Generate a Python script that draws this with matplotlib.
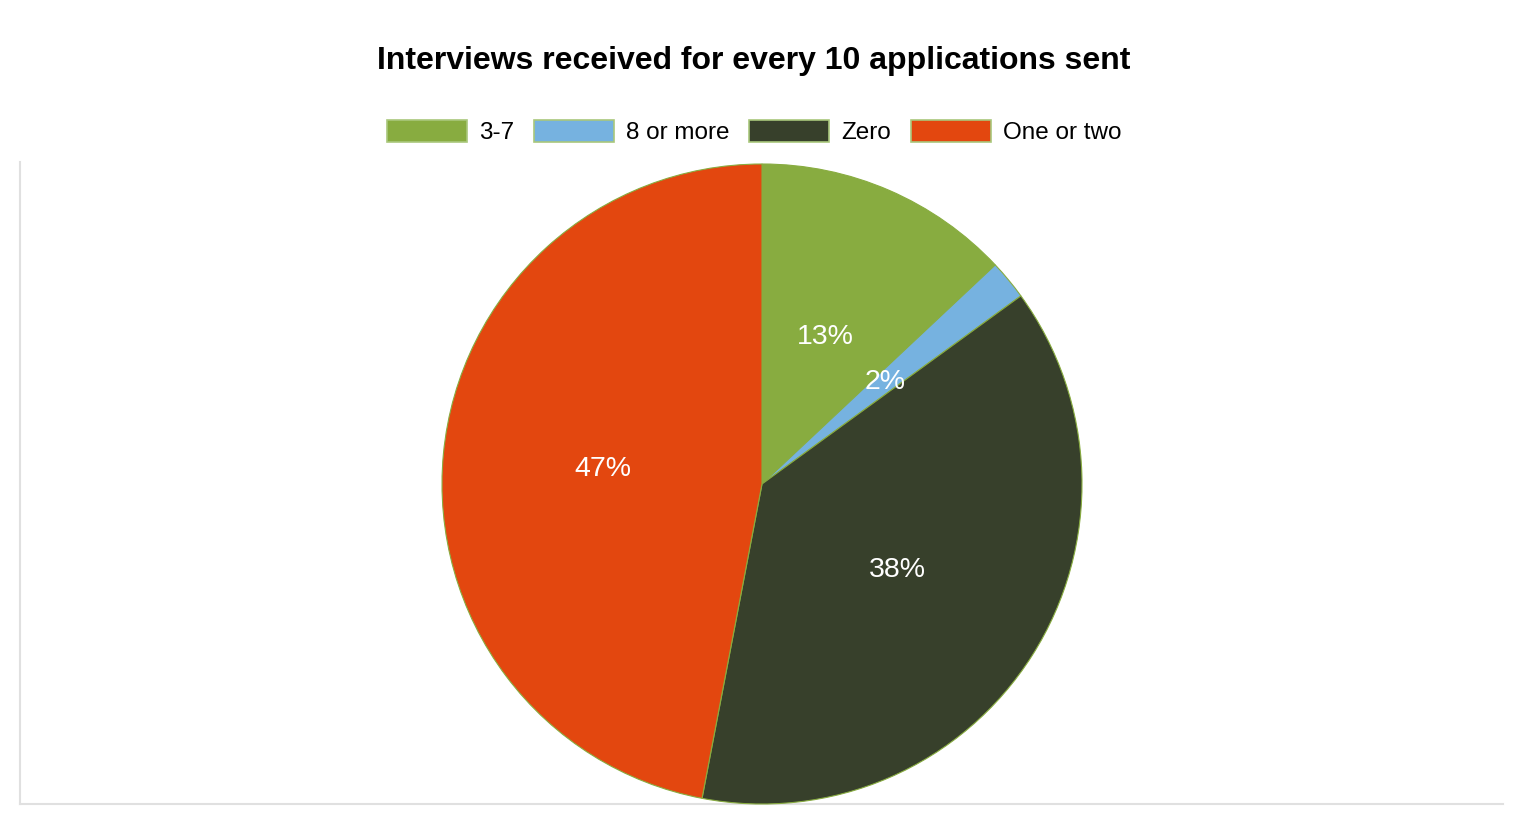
import matplotlib.pyplot as plt

labels = ['3-7', '8 or more', 'Zero', 'One or two']
values = [13, 2, 38, 47]
colors = ['#88ac40', '#76b2e0', '#37402b', '#e3470f']

plt.rcParams['font.family'] = ['Liberation Sans', 'DejaVu Sans']

fig = plt.figure(figsize=(15.28, 8.26), dpi=100)

# light L-shaped frame behind the pie
frame = fig.add_axes([20 / 1528, 22 / 826, 1483 / 1528, 642 / 826])
frame.set_xticks([])
frame.set_yticks([])
for side in ['top', 'right']:
    frame.spines[side].set_visible(False)
for side in ['left', 'bottom']:
    frame.spines[side].set_color('#e0e0e0')
    frame.spines[side].set_linewidth(1.5)

ax = fig.add_axes([442 / 1528, 22 / 826, 640 / 1528, 640 / 826])
wedges, texts, autotexts = ax.pie(
    values, colors=colors, startangle=90, counterclock=False,
    autopct='%1.0f%%', pctdistance=0.5,
    wedgeprops={'edgecolor': '#88ac40', 'linewidth': 0.8},
    textprops={'color': 'white', 'fontsize': 20.5})
ax.set_xlim(-1, 1)
ax.set_ylim(-1, 1)
ax.set_aspect('equal')

leg = fig.legend(wedges, labels, loc='center', bbox_to_anchor=(0.4935, 0.84),
                 ncol=4, frameon=False, fontsize=17.5,
                 handlelength=3.3, handleheight=1.0, handletextpad=0.5,
                 columnspacing=0.8)
for h in leg.legend_handles:
    h.set_edgecolor('#a9c77c')
    h.set_linewidth(1.2)

fig.text(0.4935, 0.926, 'Interviews received for every 10 applications sent',
         ha='center', va='center', fontsize=23, fontweight='bold')

fig.savefig('out.png', dpi=100)
